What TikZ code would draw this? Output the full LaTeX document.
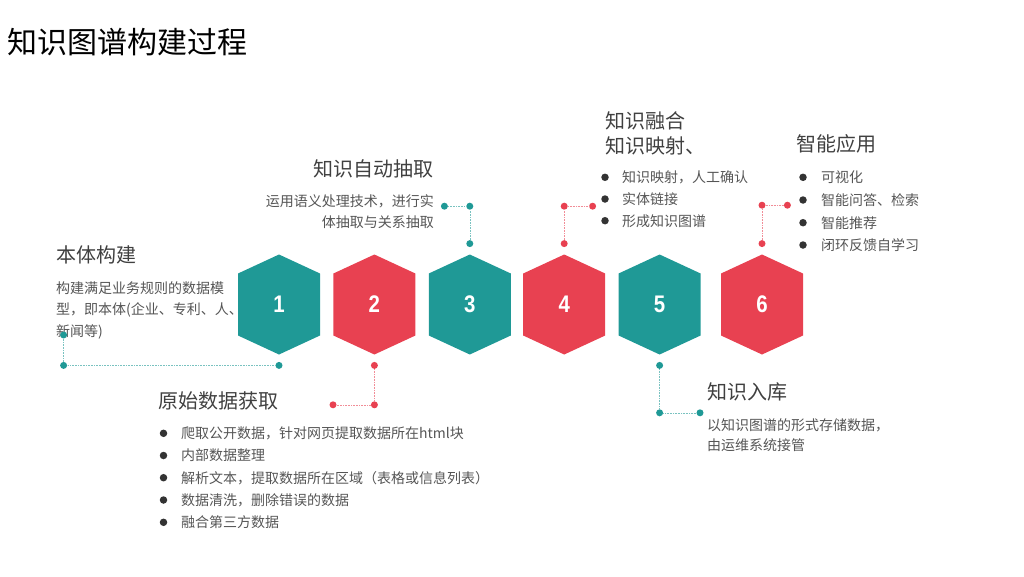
\documentclass[tikz,border=0pt]{standalone}
\usepackage{fontspec}
\setmainfont{Noto Sans CJK SC}
\newfontfamily\numfont[FakeStretch=0.85]{Liberation Sans}
\usetikzlibrary{positioning}
\definecolor{hexteal}{RGB}{31,153,150}
\definecolor{hexred}{RGB}{232,65,81}
\definecolor{headgray}{RGB}{64,64,64}
\definecolor{bodygray}{RGB}{85,85,85}
\definecolor{bulletgray}{RGB}{51,51,51}

\begin{document}
\begin{tikzpicture}[x=1pt,y=-1pt,node distance=13pt,
title text/.style={inner sep=0pt,text=black,font=\fontsize{30}{36}\selectfont},
head text/.style={inner sep=0pt,text=headgray,font=\fontsize{20}{24}\selectfont},
body text/.style={inner sep=0pt,text=bodygray,font=\fontsize{14}{17}\selectfont},
bullet/.style={circle,fill=bulletgray,inner sep=0pt,minimum size=7.5pt},
hex node/.style={rectangle,inner sep=0pt,minimum width=82pt,minimum height=100pt,
  text=white,font=\numfont\bfseries\fontsize{24}{28}\selectfont,
  path picture={\fill[#1] (path picture bounding box.north)
    -- ([yshift=-19pt]path picture bounding box.north east)
    -- ([yshift=19pt]path picture bounding box.south east)
    -- (path picture bounding box.south)
    -- ([yshift=19pt]path picture bounding box.south west)
    -- ([yshift=-19pt]path picture bounding box.north west) -- cycle;}},
teal dot/.style={circle,fill=hexteal,inner sep=0pt,minimum size=7pt},
red dot/.style={circle,fill=hexred,inner sep=0pt,minimum size=7pt},
teal line/.style={densely dotted,line width=0.6pt,draw=hexteal!60},
red line/.style={densely dotted,line width=0.6pt,draw=hexred!60}]

\useasboundingbox (0,0) rectangle (1024,576);

%Title
\node[title text,anchor=base west] (title) at (7,53) {知识图谱构建过程};

%Ontology
\node[head text,anchor=base west] (onto) at (56,262) {本体构建};
\node[body text,anchor=base west] (onto1) at (56,293) {构建满足业务规则的数据模};
\node[body text,anchor=base west] (onto2) at (56,314.5) {型，即本体(企业、专利、人、};
\node[body text,anchor=base west] (onto3) at (56,336) {新闻等)};

%Raw data
\node[head text,anchor=base west] (raw) at (158,408.5) {原始数据获取};
\node[bullet] (b21) at (163.5,433.3) {};
\node[bullet] (b22) at (163.5,455.5) {};
\node[bullet] (b23) at (163.5,477.7) {};
\node[bullet] (b24) at (163.5,500) {};
\node[bullet] (b25) at (163.5,522.3) {};
\node[body text,anchor=base west] (raw1) at (181,438.5) {爬取公开数据，针对网页提取数据所在html块};
\node[body text,anchor=base west] (raw2) at (181,460.7) {内部数据整理};
\node[body text,anchor=base west] (raw3) at (181,483) {解析文本，提取数据所在区域（表格或信息列表）};
\node[body text,anchor=base west] (raw4) at (181,505.2) {数据清洗，删除错误的数据};
\node[body text,anchor=base west] (raw5) at (181,527.5) {融合第三方数据};

%Extraction
\node[head text,anchor=base east] (extr) at (434,176.5) {知识自动抽取};
\node[body text,anchor=base east] (extr1) at (434,206) {运用语义处理技术，进行实};
\node[body text,anchor=base east] (extr2) at (434,227.5) {体抽取与关系抽取};

%Fusion
\node[head text,anchor=base west] (fuse) at (605,128.5) {知识融合};
\node[head text,anchor=base west] (fuse0) at (605,153.5) {知识映射、};
\node[bullet] (b41) at (605,177.3) {};
\node[bullet] (b42) at (605,199) {};
\node[bullet] (b43) at (605,220.7) {};
\node[body text,anchor=base west] (fuse1) at (622,182.5) {知识映射，人工确认};
\node[body text,anchor=base west] (fuse2) at (622,204.2) {实体链接};
\node[body text,anchor=base west] (fuse3) at (622,226) {形成知识图谱};

%Storage
\node[head text,anchor=base west] (store) at (707,399) {知识入库};
\node[body text,anchor=base west] (store1) at (707,430) {以知识图谱的形式存储数据，};
\node[body text,anchor=base west] (store2) at (707,450.5) {由运维系统接管};

%Application
\node[head text,anchor=base west] (app) at (796,151.5) {智能应用};
\node[bullet] (b61) at (803,177.3) {};
\node[bullet] (b62) at (803,200) {};
\node[bullet] (b63) at (803,222.7) {};
\node[bullet] (b64) at (803,245) {};
\node[body text,anchor=base west] (app1) at (821,182.5) {可视化};
\node[body text,anchor=base west] (app2) at (821,205.2) {智能问答、检索};
\node[body text,anchor=base west] (app3) at (821,228) {智能推荐};
\node[body text,anchor=base west] (app4) at (821,250.2) {闭环反馈自学习};

%Hexagons
\node[hex node=hexteal] (h1) at (279,304.5) {1};
\node[hex node=hexred] (h2) [right=of h1] {2};
\node[hex node=hexteal] (h3) [right=of h2] {3};
\node[hex node=hexred] (h4) [right=12pt of h3] {4};
\node[hex node=hexteal] (h5) [right=of h4] {5};
\node[hex node=hexred] (h6) [right=20pt of h5] {6};

%Dots
\node[teal dot] (d1a) [below=7pt of h1] {};
\node[teal dot] (d1b) [left=208pt of d1a] {};
\node[teal dot] (d1c) [above=23pt of d1b] {};
\node[red dot] (d2a) [below=7pt of h2] {};
\node[red dot] (d2b) [below=32pt of d2a] {};
\node[red dot] (d2c) [left=34pt of d2b] {};
\node[teal dot] (d3a) [above=7pt of h3] {};
\node[teal dot] (d3b) [above=30pt of d3a] {};
\node[teal dot] (d3c) [left=18pt of d3b] {};
\node[red dot] (d4a) [above=7pt of h4] {};
\node[red dot] (d4b) [above=30pt of d4a] {};
\node[red dot] (d4c) [right=21pt of d4b] {};
\node[teal dot] (d5a) [below=7pt of h5] {};
\node[teal dot] (d5b) [below=40pt of d5a] {};
\node[teal dot] (d5c) [right=33pt of d5b] {};
\node[red dot] (d6a) [above=7pt of h6] {};
\node[red dot] (d6b) [above=31pt of d6a] {};
\node[red dot] (d6c) [right=18pt of d6b] {};

%Paths
\path[teal line]
(d1a) edge (d1b)
(d1b) edge (d1c)
(d3a) edge (d3b)
(d3b) edge (d3c)
(d5a) edge (d5b)
(d5b) edge (d5c)
;
\path[red line]
(d2a) edge (d2b)
(d2b) edge (d2c)
(d4a) edge (d4b)
(d4b) edge (d4c)
(d6a) edge (d6b)
(d6b) edge (d6c)
;
\end{tikzpicture}
\end{document}
